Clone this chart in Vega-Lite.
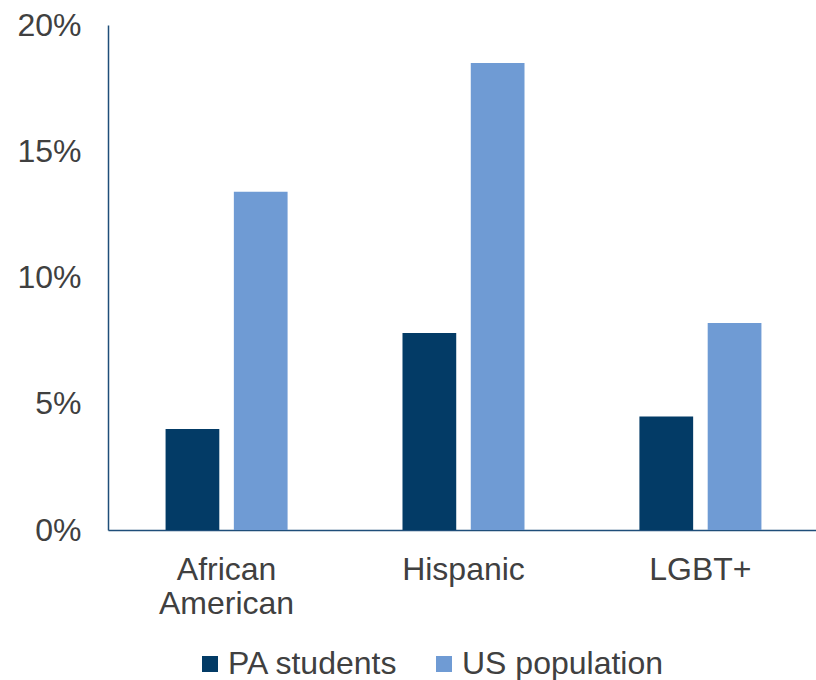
{
  "$schema": "https://vega.github.io/schema/vega-lite/v6.json",
  "autosize": {"type": "none"},
  "width": 711,
  "height": 505,
  "padding": {"left": 108, "top": 25, "right": 0, "bottom": 150},
  "background": "white",
  "config": {
    "view": {"stroke": null},
    "font": "Liberation Sans"
  },
  "data": {
    "values": [
      {"group": "African American", "series": "PA students", "value": 0.040},
      {"group": "African American", "series": "US population", "value": 0.134},
      {"group": "Hispanic", "series": "PA students", "value": 0.078},
      {"group": "Hispanic", "series": "US population", "value": 0.185},
      {"group": "LGBT+", "series": "PA students", "value": 0.045},
      {"group": "LGBT+", "series": "US population", "value": 0.082}
    ]
  },
  "mark": {"type": "bar"},
  "encoding": {
    "x": {
      "field": "group",
      "type": "nominal",
      "sort": ["African American", "Hispanic", "LGBT+"],
      "scale": {"paddingInner": 0.485, "paddingOuter": 0.243},
      "axis": {
        "title": null,
        "labelAngle": 0,
        "ticks": false,
        "labelFontSize": 32,
        "labelColor": "#404040",
        "labelPadding": 24,
        "labelLineHeight": 34,
        "labelExpr": "datum.value == 'African American' ? ['African', 'American'] : datum.value",
        "domainColor": "#1F4E79",
        "domainWidth": 1.5
      }
    },
    "xOffset": {
      "field": "series",
      "type": "nominal",
      "scale": {"paddingInner": 0.213, "paddingOuter": 0}
    },
    "y": {
      "field": "value",
      "type": "quantitative",
      "scale": {"domain": [0, 0.2], "nice": false},
      "axis": {
        "title": null,
        "values": [0, 0.05, 0.1, 0.15, 0.2],
        "format": ".0%",
        "grid": false,
        "ticks": false,
        "labelFontSize": 32,
        "labelColor": "#404040",
        "labelPadding": 27,
        "domainColor": "#1F4E79",
        "domainWidth": 1.5
      }
    },
    "color": {
      "field": "series",
      "type": "nominal",
      "scale": {"domain": ["PA students", "US population"], "range": ["#033B66", "#6F9BD4"]},
      "legend": {
        "title": null,
        "orient": "none",
        "direction": "horizontal",
        "legendX": 86,
        "legendY": 623,
        "padding": 0,
        "symbolType": "square",
        "symbolSize": 256,
        "symbolStrokeWidth": 0,
        "labelFontSize": 32,
        "labelLimit": 400,
        "labelColor": "#404040",
        "labelOffset": 2,
        "columnPadding": 29
      }
    }
  }
}
